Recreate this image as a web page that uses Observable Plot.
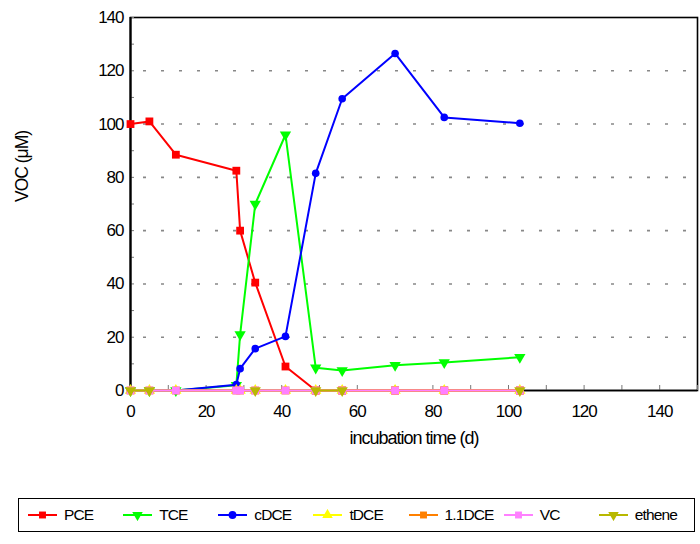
<!DOCTYPE html>
<html><head><meta charset="utf-8">
<script src="https://cdn.jsdelivr.net/npm/d3@7"></script>
<script src="https://cdn.jsdelivr.net/npm/@observablehq/plot@0.6"></script>
<style>
body{margin:0;background:#fff;font-family:"Liberation Sans",Arial,sans-serif;}
#wrap{position:relative;width:700px;height:544px;}
#legend{position:absolute;left:18px;top:498px;width:677px;height:34px;border:1.5px solid #000;display:flex;align-items:center;padding-left:9px;box-sizing:border-box;}
.item{width:95.3px;display:flex;align-items:center;font-size:15.5px;letter-spacing:-0.9px;white-space:nowrap;}
.item svg{margin-right:7px;}
</style></head>
<body><div id="wrap"><div id="chart"></div><div id="legend"></div></div>
<script>
const times = [0, 5, 12, 28, 29, 33, 41, 49, 56, 70, 83, 103];
const seriesNames = ["PCE", "TCE", "cDCE", "tDCE", "1.1DCE", "VC", "ethene"];
const pce    = [100, 101, 88.5, 82.5, 60, 40.5, 9, 0, 0, 0, 0, 0];
const tce    = [0, 0, 0, 2, 21, 70, 96, 8.5, 7.5, 9.5, 10.5, 12.5];
const cdce   = [0, 0, 0, 2.2, 8.2, 15.7, 20.3, 81.5, 109.5, 126.5, 102.5, 100.3];
const tdce   = [0, 0, 0, 0, 0, 0, 0, 0, 0, 0, 0, 0];
const dce11  = [0, 0, 0, 0, 0, 0, 0, 0, 0, 0, 0, 0];
const vc     = [0, 0, 0, 0, 0, 0, 0, 0, 0, 0, 0, 0];
const ethene = [0, 0, null, null, null, 0, null, 0, 0, null, null, 0];
const yTickLabels = [0, 20, 40, 60, 80, 100, 120, 140];
const xTickLabels = [0, 20, 40, 60, 80, 100, 120, 140];
const yMinorTicks = d3.range(0, 141, 10);
const xMinorTicks = d3.range(0, 151, 10);
const gridValues = [20, 40, 60, 80, 100, 120];

const values = [pce, tce, cdce, tdce, dce11, vc, ethene];
const colors = ["#ff0000", "#00ff00", "#0000ff", "#ffff00", "#ff8000", "#ff80ff", "#b8b800"];
const symbols = ["square", "triangle", "circle", "triangle", "square", "square", "triangle"];
const rotates = [0, 180, 0, 0, 0, 0, 180];
const radii = [4.4, 4.2, 3.8, 4.2, 4.4, 4.4, 4.2];

const marks = [
  Plot.ruleY(gridValues, {stroke: "#888", strokeWidth: 1.6, strokeDasharray: "3,15", strokeDashoffset: -13}),
  Plot.frame({stroke: "#000", strokeWidth: 1.6}),
  Plot.axisY({ticks: yMinorTicks, tickSize: -4, tickFormat: () => "", stroke: "#777", label: null}),
  Plot.axisY({ticks: yTickLabels, tickSize: 0, tickPadding: 7, fontSize: 17, label: null}),
  Plot.axisX({ticks: xMinorTicks, tickSize: -5, tickFormat: () => "", stroke: "#777", label: null}),
  Plot.axisX({ticks: xTickLabels, tickSize: 0, tickPadding: 14, fontSize: 17, label: null}),
  Plot.ruleX([0], {stroke: "#000", strokeWidth: 2.2}),
  Plot.ruleY([0], {stroke: "#000", strokeWidth: 1.6})
];
values.forEach((vals, i) => {
  const data = times.map((t, j) => ({t, v: vals[j]}));
  marks.push(Plot.line(data, {x: "t", y: "v", stroke: colors[i], strokeWidth: 2}));
  marks.push(Plot.dot(data.filter(d => d.v != null), {x: "t", y: "v", symbol: symbols[i], r: radii[i], fill: colors[i], stroke: "none", rotate: rotates[i]}));
});
marks.push(Plot.text(["incubation time (d)"], {frameAnchor: "bottom", dy: 53, fontSize: 18, letterSpacing: "-0.9px"}));
marks.push(Plot.text(["VOC (\u03bcM)"], {frameAnchor: "left", dx: -108, dy: -2, rotate: -90, fontSize: 17.5, letterSpacing: "-0.3px"}));

const chart = Plot.plot({
  width: 700, height: 470,
  marginLeft: 130, marginRight: 3, marginTop: 17, marginBottom: 80,
  x: {domain: [0, 150]},
  y: {domain: [0, 140]},
  style: {fontFamily: "Liberation Sans, Arial, sans-serif", fontSize: "17px", letterSpacing: "-1px", color: "#000", background: "#fff"},
  marks
});
document.getElementById("chart").appendChild(chart);

const legend = d3.select("#legend");
seriesNames.forEach((name, i) => {
  const item = legend.append("div").attr("class", "item");
  const s = item.append("svg").attr("width", 29).attr("height", 12);
  s.append("line").attr("x1", 0).attr("x2", 29).attr("y1", 6).attr("y2", 6).attr("stroke", colors[i]).attr("stroke-width", 2);
  const sym = {square: d3.symbolSquare, triangle: d3.symbolTriangle, circle: d3.symbolCircle}[symbols[i]];
  s.append("path").attr("d", d3.symbol(sym, 48)()).attr("fill", colors[i])
    .attr("transform", `translate(14.5,6) rotate(${rotates[i]})`);
  item.append("span").text(name);
});
</script></body></html>
